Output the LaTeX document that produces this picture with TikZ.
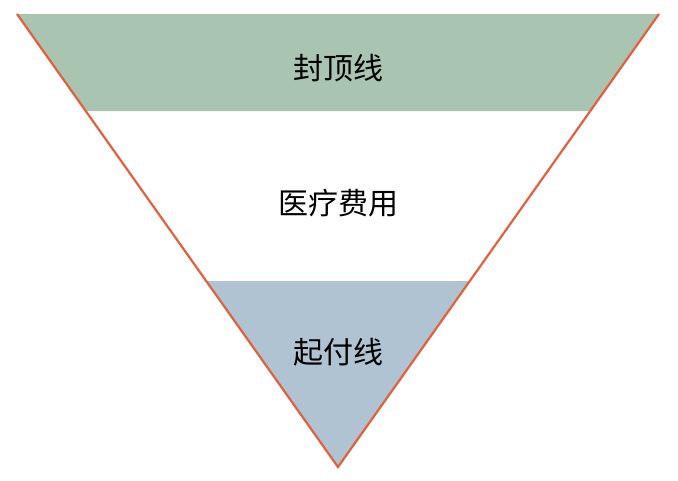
\documentclass[tikz,border=0pt]{standalone}
\usepackage{fontspec}
\newfontfamily\cjk{Noto Sans CJK SC}
\definecolor{topg}{HTML}{A9C4B0}
\definecolor{botb}{HTML}{B0C3D3}
\definecolor{edge}{HTML}{E0603F}
\begin{document}
\begin{tikzpicture}[x=1pt,y=-1pt,lbl/.style={font=\cjk\fontsize{30}{34}\selectfont,text=black}]
\useasboundingbox (0,0) rectangle (678,480);
\fill[topg] (17,14) -- (659,14) -- (590.3,111) -- (85.7,111) -- cycle;
\fill[botb] (206.2,281) -- (469.8,281) -- (338,467) -- cycle;
\draw[edge,line width=2.2pt,line join=miter] (17,14) -- (338,467) -- (659,14);
\node[lbl] (a) at (338,68) {封顶线};
\node[lbl] (b) at (338,203) {医疗费用};
\node[lbl] (c) at (338,352) {起付线};
\end{tikzpicture}
\end{document}
